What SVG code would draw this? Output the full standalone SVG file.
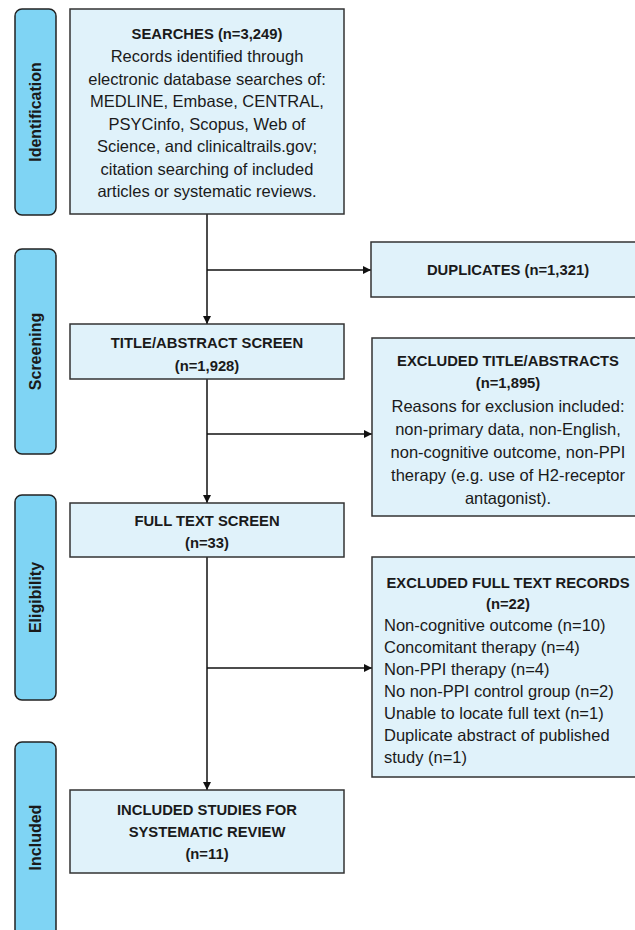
<svg xmlns="http://www.w3.org/2000/svg" width="635" height="930" viewBox="0 0 635 930">
<style>
.box{fill:#E0F2FA;stroke:#333;stroke-width:1.5}
.bar{fill:#7FD4F4;stroke:#222;stroke-width:1.5}
.t{font-family:"Liberation Sans",Arial,sans-serif;fill:#1a1a1a}
.b{font-weight:bold;font-size:14.8px}
.r{font-size:16.5px}
.lbl{font-family:"Liberation Sans",Arial,sans-serif;font-weight:bold;font-size:16px;fill:#1a1a1a;text-anchor:middle}
.c{text-anchor:middle}
.ln{stroke:#111;stroke-width:1.5;fill:none}
</style>
<defs>
<marker id="ah" viewBox="0 0 10 10" refX="10" refY="5" markerWidth="8" markerHeight="8" markerUnits="userSpaceOnUse" orient="auto">
<path d="M0,0 L10,5 L0,10 z" fill="#111"/>
</marker>
</defs>
<rect width="635" height="930" fill="#fff"/>

<g id="phase-identification">
<rect class="bar" x="15" y="9" width="41" height="206" rx="7"/>
<text class="lbl" transform="translate(41,112) rotate(-90)">Identification</text>
</g>
<g id="phase-screening">
<rect class="bar" x="15" y="249" width="41" height="205" rx="7"/>
<text class="lbl" transform="translate(41,351.5) rotate(-90)">Screening</text>
</g>
<g id="phase-eligibility">
<rect class="bar" x="15" y="495" width="41" height="205" rx="7"/>
<text class="lbl" transform="translate(41,597.5) rotate(-90)">Eligibility</text>
</g>
<g id="phase-included">
<rect class="bar" x="15" y="742" width="41" height="200" rx="7"/>
<text class="lbl" transform="translate(41,837.5) rotate(-90)">Included</text>
</g>

<g id="connectors">
<line class="ln" x1="207" y1="214" x2="207" y2="324" marker-end="url(#ah)"/>
<line class="ln" x1="207" y1="270" x2="371" y2="270" marker-end="url(#ah)"/>
<line class="ln" x1="207" y1="379" x2="207" y2="503" marker-end="url(#ah)"/>
<line class="ln" x1="207" y1="434" x2="372" y2="434" marker-end="url(#ah)"/>
<line class="ln" x1="207" y1="557" x2="207" y2="790" marker-end="url(#ah)"/>
<line class="ln" x1="207" y1="668" x2="372" y2="668" marker-end="url(#ah)"/>
</g>

<g id="searches">
<rect class="box" x="70" y="9" width="274" height="205"/>
<text class="t c b" x="207" y="39">SEARCHES (n=3,249)</text>
<text class="t c r" x="207" y="62">Records identified through</text>
<text class="t c r" x="207" y="84.5">electronic database searches of:</text>
<text class="t c r" x="207" y="107">MEDLINE, Embase, CENTRAL,</text>
<text class="t c r" x="207" y="129.5">PSYCinfo, Scopus, Web of</text>
<text class="t c r" x="207" y="152">Science, and clinicaltrails.gov;</text>
<text class="t c r" x="207" y="174.5">citation searching of included</text>
<text class="t c r" x="207" y="197">articles or systematic reviews.</text>
</g>

<g id="duplicates">
<rect class="box" x="371" y="242" width="275" height="55"/>
<text class="t c b" x="508" y="275">DUPLICATES (n=1,321)</text>
</g>

<g id="title-abstract-screen">
<rect class="box" x="70" y="324" width="274" height="55"/>
<text class="t c b" x="207" y="348">TITLE/ABSTRACT SCREEN</text>
<text class="t c b" x="207" y="371">(n=1,928)</text>
</g>

<g id="excluded-title-abstracts">
<rect class="box" x="372" y="338" width="275" height="178"/>
<text class="t c b" x="508" y="366">EXCLUDED TITLE/ABSTRACTS</text>
<text class="t c b" x="508" y="388">(n=1,895)</text>
<text class="t c r" x="508" y="412">Reasons for exclusion included:</text>
<text class="t c r" x="508" y="435">non-primary data, non-English,</text>
<text class="t c r" x="508" y="458">non-cognitive outcome, non-PPI</text>
<text class="t c r" x="508" y="481">therapy (e.g. use of H2-receptor</text>
<text class="t c r" x="508" y="504">antagonist).</text>
</g>

<g id="full-text-screen">
<rect class="box" x="70" y="503" width="274" height="54"/>
<text class="t c b" x="207" y="526">FULL TEXT SCREEN</text>
<text class="t c b" x="207" y="548">(n=33)</text>
</g>

<g id="excluded-full-text">
<rect class="box" x="372" y="557" width="275" height="220"/>
<text class="t c b" x="508" y="588">EXCLUDED FULL TEXT RECORDS</text>
<text class="t c b" x="508" y="609">(n=22)</text>
<text class="t r" x="384" y="631">Non-cognitive outcome (n=10)</text>
<text class="t r" x="384" y="653">Concomitant therapy (n=4)</text>
<text class="t r" x="384" y="675">Non-PPI therapy (n=4)</text>
<text class="t r" x="384" y="697">No non-PPI control group (n=2)</text>
<text class="t r" x="384" y="719">Unable to locate full text (n=1)</text>
<text class="t r" x="384" y="741">Duplicate abstract of published</text>
<text class="t r" x="384" y="763">study (n=1)</text>
</g>

<g id="included-studies">
<rect class="box" x="70" y="790" width="274" height="83"/>
<text class="t c b" x="207" y="815">INCLUDED STUDIES FOR</text>
<text class="t c b" x="207" y="837">SYSTEMATIC REVIEW</text>
<text class="t c b" x="207" y="859">(n=11)</text>
</g>
</svg>
